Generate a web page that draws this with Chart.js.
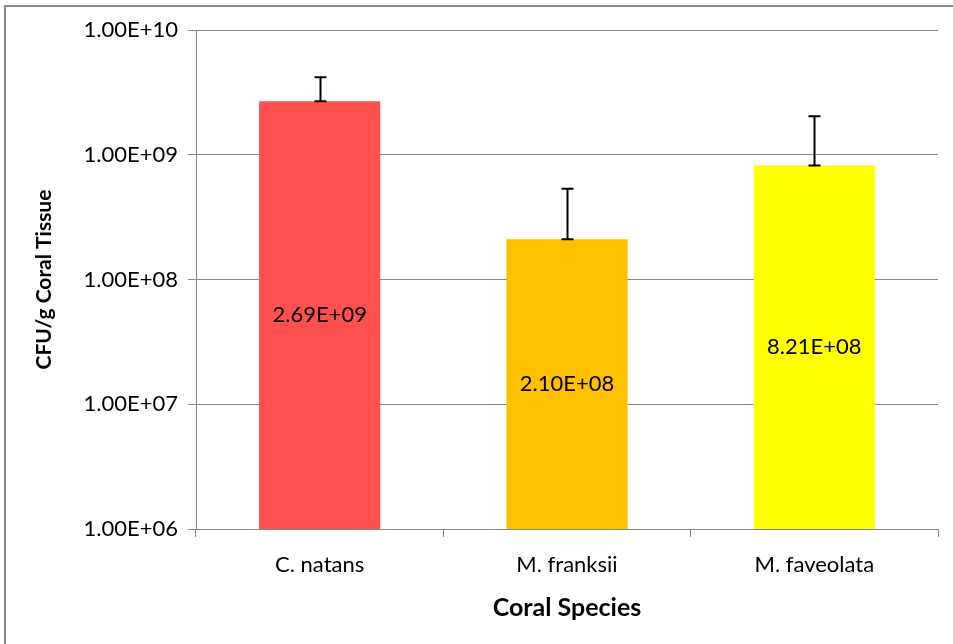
<!DOCTYPE html>
<html>
<head>
<meta charset="utf-8">
<title>CFU per gram of coral tissue</title>
<script src="https://cdn.jsdelivr.net/npm/chart.js@4.4.1/dist/chart.umd.min.js"></script>
<style>
  html, body { margin: 0; padding: 0; background: #ffffff; }
  canvas { display: block; }
</style>
</head>
<body>
<canvas id="chart" width="953" height="644"></canvas>
<script>
// Species sampled and mean colony counts (CFU per gram of tissue)
const species = ['C. natans', 'M. franksii', 'M. faveolata'];
const cfuMeans = [2.69e9, 2.10e8, 8.21e8];
// Upper error (added to the mean)
const cfuErrors = [1.50e9, 3.25e8, 1.21e9];
const barColors = ['#FF5050', '#FFC000', '#FFFF00'];
// Logarithmic axis ticks
const tickValues = [1e6, 1e7, 1e8, 1e9, 1e10];
const tickLabels = ['1.00E+06', '1.00E+07', '1.00E+08', '1.00E+09', '1.00E+10'];

const FONT = 'Lato, "Open Sans", sans-serif';
const GRID = '#868686';

function sci(v) {
  const [m, e] = v.toExponential(2).split('e');
  const n = parseInt(e, 10);
  return m + 'E' + (n < 0 ? '-' : '+') + String(Math.abs(n)).padStart(2, '0');
}

// Frame around the whole chart (left and top edges visible)
const framePlugin = {
  id: 'frame',
  beforeDraw(chart) {
    const ctx = chart.ctx;
    ctx.save();
    ctx.strokeStyle = '#8a8a8a';
    ctx.lineWidth = 2;
    ctx.strokeRect(5, 6, chart.width + 20, chart.height + 20);
    ctx.restore();
  }
};

// Error bars and value labels drawn over the bars
const overlayPlugin = {
  id: 'overlay',
  afterDatasetsDraw(chart) {
    const ctx = chart.ctx;
    const meta = chart.getDatasetMeta(0);
    const y = chart.scales.y;
    ctx.save();
    meta.data.forEach((bar, i) => {
      const x = Math.round(bar.x) + 0.5;
      const yLo = y.getPixelForValue(cfuMeans[i]);
      const yHi = y.getPixelForValue(cfuMeans[i] + cfuErrors[i]);
      ctx.strokeStyle = '#000000';
      ctx.lineWidth = 2;
      ctx.beginPath();
      ctx.moveTo(x, yLo); ctx.lineTo(x, yHi);
      ctx.moveTo(x - 6, yHi); ctx.lineTo(x + 6, yHi);
      ctx.moveTo(x - 6, yLo); ctx.lineTo(x + 6, yLo);
      ctx.stroke();

      ctx.fillStyle = '#000000';
      ctx.font = '22px ' + FONT;
      ctx.textAlign = 'center';
      ctx.textBaseline = 'middle';
      ctx.fillText(sci(cfuMeans[i]), bar.x, (bar.y + bar.base) / 2);
    });
    ctx.restore();
  }
};

new Chart(document.getElementById('chart'), {
  type: 'bar',
  data: {
    labels: species,
    datasets: [{
      data: cfuMeans,
      backgroundColor: barColors,
      borderWidth: 0,
      barPercentage: 0.49,
      categoryPercentage: 1.0
    }]
  },
  options: {
    responsive: false,
    animation: false,
    devicePixelRatio: 1,
    layout: { padding: { left: 0, right: 15, top: 30, bottom: 0 } },
    plugins: {
      legend: { display: false },
      tooltip: { enabled: false }
    },
    scales: {
      x: {
        grid: {
          display: true,
          drawOnChartArea: false,
          drawTicks: true,
          tickLength: 8,
          color: GRID,
          offset: true
        },
        border: { display: true, color: GRID, width: 1 },
        ticks: {
          color: '#000000',
          font: { family: FONT, size: 22 },
          padding: 15
        },
        title: {
          display: true,
          text: 'Coral Species',
          color: '#000000',
          font: { family: FONT, size: 25, weight: 'bold' },
          padding: { top: 0, bottom: 21 }
        },
        afterFit(scale) { scale.height = 115; }
      },
      y: {
        type: 'logarithmic',
        min: 1e6,
        max: 1e10,
        afterBuildTicks(scale) {
          scale.ticks = tickValues.map(v => ({ value: v, major: true }));
        },
        afterFit(scale) { scale.width = 196; },
        grid: {
          color: GRID,
          lineWidth: 1,
          drawTicks: true,
          tickLength: 8
        },
        border: { display: true, color: GRID, width: 1 },
        ticks: {
          color: '#000000',
          font: { family: FONT, size: 22 },
          padding: 10,
          callback(value, index) { return tickLabels[index]; }
        },
        title: {
          display: true,
          text: 'CFU/g Coral Tissue',
          color: '#000000',
          font: { family: FONT, size: 21, weight: 'bold' },
          padding: { top: 32, bottom: 0 }
        }
      }
    }
  },
  plugins: [framePlugin, overlayPlugin]
});
</script>
</body>
</html>
